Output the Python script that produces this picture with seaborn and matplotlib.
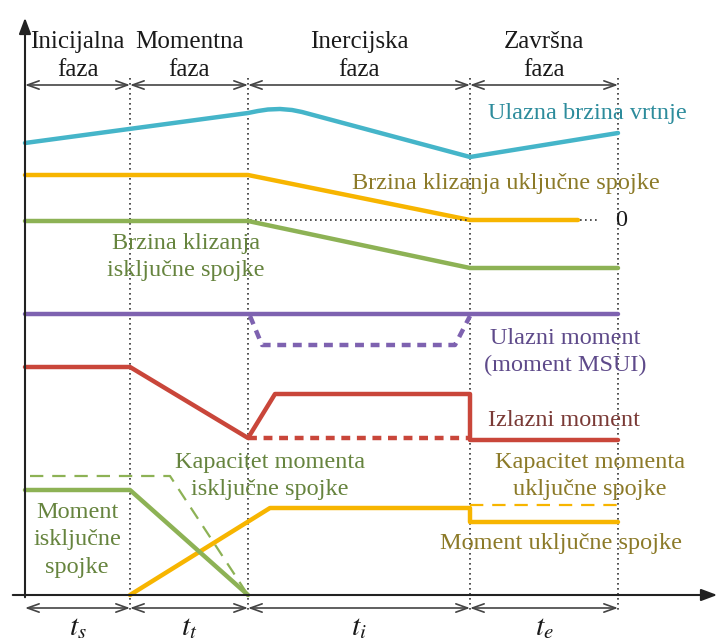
#schematic of the shift phases: speeds and torques over time
import numpy as np
import pandas as pd
import seaborn as sns
import matplotlib.pyplot as plt

# phase boundaries (x positions)
phase_x = [25, 130, 248, 470, 618]
phase_names = ['Inicijalna\nfaza', 'Momentna\nfaza', 'Inercijska\nfaza', 'Završna\nfaza']
phase_times = ['$t_s$', '$t_t$', '$t_i$', '$t_e$']

# input speed (cyan)
in_speed_x = [25, 248, 258, 268, 280, 292, 302, 470, 618]
in_speed_y = [143, 113, 111, 109.5, 109, 110, 112, 157, 133]
# oncoming clutch slip speed (yellow)
on_slip_x = [25, 248, 470, 578]
on_slip_y = [175, 175, 220, 220]
# offgoing clutch slip speed (green)
off_slip_x = [25, 248, 470, 618]
off_slip_y = [221, 221, 268, 268]
# input torque (purple)
in_torque_x = [25, 618]
in_torque_y = [314, 314]
in_torque_dip_x = [250, 262, 455, 470]
in_torque_dip_y = [316, 345, 345, 316]
# output torque (red)
out_torque_x = [25, 130, 248, 275, 470, 470, 618]
out_torque_y = [367, 367, 438, 394, 394, 440, 440]
out_torque_dash_x = [248, 470]
out_torque_dash_y = [438, 438]
# offgoing clutch torque and capacity (green)
off_torque_x = [25, 130, 248]
off_torque_y = [490, 490, 595]
off_cap_x = [30, 170, 248]
off_cap_y = [476, 476, 595]
# oncoming clutch torque and capacity (yellow)
on_torque_x = [130, 270, 470, 470, 618]
on_torque_y = [595, 508, 508, 522, 522]
on_cap_x = [470, 618]
on_cap_y = [505, 505]

cyan, cyan_t = '#45b5c9', '#2d8c9c'
yellow, yellow_t = '#f7b500', '#8c7a28'
green, green_t = '#8db255', '#66843e'
purple, purple_t = '#7e62b0', '#5e4a8a'
red, red_t = '#c9463a', '#7a3a36'

sns.set_theme(style='white')
plt.rcParams['font.family'] = ['Liberation Serif', 'DejaVu Serif']
plt.rcParams['mathtext.fontset'] = 'stix'

fig = plt.figure(figsize=(7.2, 6.41), dpi=100)
ax = fig.add_axes([0, 0, 1, 1])
ax.set_xlim(0, 720)
ax.set_ylim(641, 0)
ax.axis('off')

def line(xs, ys, color, ls='-', lw=3.2):
    sns.lineplot(x=xs, y=ys, sort=False, estimator=None, color=color,
                 linestyle=ls, linewidth=lw, ax=ax, legend=False)

# dotted phase boundaries
for x in phase_x[1:]:
    ax.plot([x, x], [78, 612], color='#333333', linestyle=(0, (1, 2)), linewidth=1.2)

line(in_speed_x, in_speed_y, cyan)
line(on_slip_x, on_slip_y, yellow)
ax.plot([250, 470], [220, 220], color='#333333', linestyle=(0, (1, 2)), linewidth=1.2)
ax.plot([580, 598], [220, 220], color='#333333', linestyle=(0, (1, 2)), linewidth=1.2)
line(off_slip_x, off_slip_y, green)
line(in_torque_x, in_torque_y, purple)
line(in_torque_dip_x, in_torque_dip_y, purple, ls=(0, (2, 1.5)))
line(out_torque_dash_x, out_torque_dash_y, red, ls=(0, (2, 1.5)))
line(out_torque_x, out_torque_y, red)
line(off_cap_x, off_cap_y, green, ls=(0, (6, 4)), lw=1.6)
line(on_cap_x, on_cap_y, yellow, ls=(0, (6, 4)), lw=1.6)
line(on_torque_x, on_torque_y, yellow)
line(off_torque_x, off_torque_y, green)

# axes with arrows
ax.annotate('', xy=(25, 15), xytext=(25, 600),
            arrowprops=dict(arrowstyle='-|>,head_length=0.8,head_width=0.3', color='#222222', lw=1.5))
ax.annotate('', xy=(720, 595), xytext=(10, 595),
            arrowprops=dict(arrowstyle='-|>,head_length=0.8,head_width=0.3', color='#222222', lw=1.5))

# dimension lines
for y in [85, 608]:
    for x0, x1 in zip(phase_x[:-1], phase_x[1:]):
        ax.annotate('', xy=(x1, y), xytext=(x0, y),
                    arrowprops=dict(arrowstyle='<->,head_length=0.7,head_width=0.25',
                                    color='#444444', lw=1.2, shrinkA=0, shrinkB=0))

fs = 17.5
ls_ = 1.4
for x0, x1, name, t in zip(phase_x[:-1], phase_x[1:], phase_names, phase_times):
    ax.text((x0 + x1) / 2, 56, name, ha='center', va='center', fontsize=fs + 0.5,
            color='#1a1a1a', linespacing=ls_)
    ax.text((x0 + x1) / 2, 628, t, ha='center', va='center', fontsize=fs + 4, color='#1a1a1a')

ax.text(488, 113, 'Ulazna brzina vrtnje', ha='left', va='center', fontsize=fs, color=cyan_t)
ax.text(352, 184, 'Brzina klizanja uključne spojke', ha='left', va='center', fontsize=fs, color=yellow_t)
ax.text(615, 220, '0', ha='left', va='center', fontsize=fs, color='#1a1a1a')
ax.text(186, 257, 'Brzina klizanja\nisključne spojke', ha='center', va='center', fontsize=fs,
        color=green_t, linespacing=ls_)
ax.text(565, 352, 'Ulazni moment\n(moment MSUI)', ha='center', va='center', fontsize=fs,
        color=purple_t, linespacing=ls_)
ax.text(488, 420, 'Izlazni moment', ha='left', va='center', fontsize=fs, color=red_t)
ax.text(270, 476, 'Kapacitet momenta\nisključne spojke', ha='center', va='center', fontsize=fs,
        color=green_t, linespacing=ls_)
ax.text(590, 476, 'Kapacitet momenta\nuključne spojke', ha='center', va='center', fontsize=fs,
        color=yellow_t, linespacing=ls_)
ax.text(77, 540, 'Moment\nisključne\nspojke', ha='center', va='center', fontsize=fs,
        color=green_t, linespacing=ls_)
ax.text(440, 544, 'Moment uključne spojke', ha='left', va='center', fontsize=fs, color=yellow_t)

fig.savefig('out.png', dpi=100)
